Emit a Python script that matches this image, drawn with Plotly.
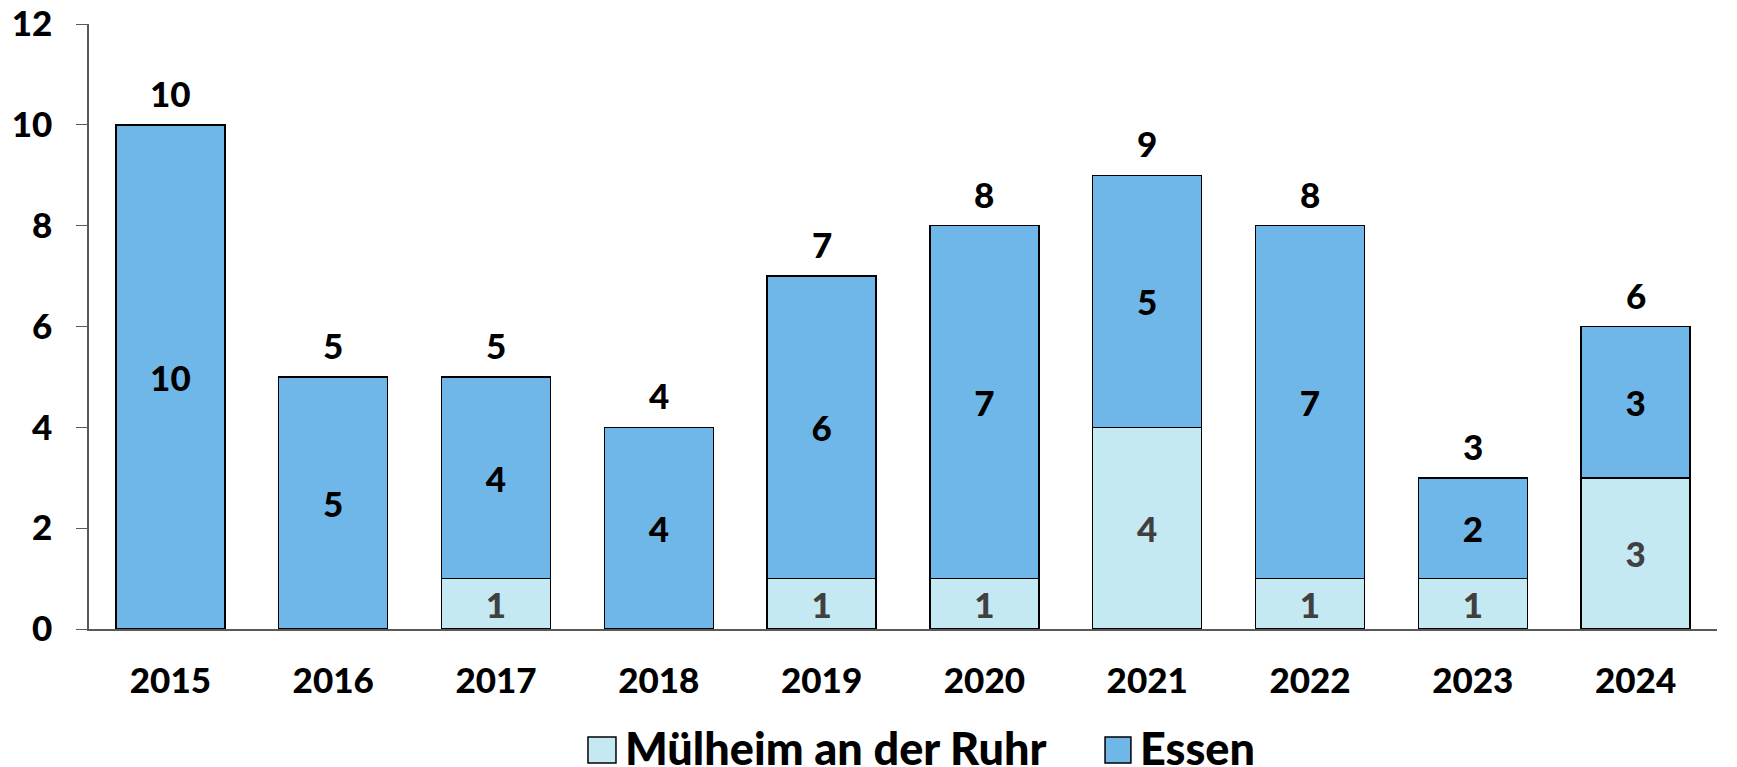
import plotly.graph_objects as go

years = ["2015", "2016", "2017", "2018", "2019", "2020", "2021", "2022", "2023", "2024"]
muelheim = [0, 0, 1, 0, 1, 1, 4, 1, 1, 3]
essen = [10, 5, 4, 4, 6, 7, 5, 7, 2, 3]
totals = [m + e for m, e in zip(muelheim, essen)]
y_ticks = [0, 2, 4, 6, 8, 10, 12]
series_names = ["Mülheim an der Ruhr", "Essen"]

FONT = "Lato"
W = 900
C_MUEL = "#C5E9F2"
C_ESSEN = "#70B7E9"

fig = go.Figure()
fig.add_trace(go.Bar(
    x=years, y=muelheim, name=series_names[0], showlegend=False,
    marker=dict(color=C_MUEL, line=dict(color="black", width=1.5)),
    text=[str(v) if v else "" for v in muelheim],
    textposition="inside", insidetextanchor="middle", textangle=0,
    textfont=dict(family=FONT, size=35, color="#404040", weight=W),
    constraintext="none",
))
fig.add_trace(go.Bar(
    x=years, y=essen, name=series_names[1], showlegend=False,
    marker=dict(color=C_ESSEN, line=dict(color="black", width=1.5)),
    text=[str(v) if v else "" for v in essen],
    textposition="inside", insidetextanchor="middle", textangle=0,
    textfont=dict(family=FONT, size=35, color="black", weight=W),
    constraintext="none",
))

# total labels above each stack (category index positions on the category axis)
for i, t in enumerate(totals):
    fig.add_annotation(
        x=i, y=t, xref="x", yref="y", text=str(t), showarrow=False,
        yanchor="bottom", yshift=9,
        font=dict(family=FONT, size=35, color="black", weight=W),
    )

# legend drawn below the plot: swatches + labels (paper coordinates)
legend_items = [
    (series_names[0], C_MUEL, 0.3065, 0.3237, 0.328),
    (series_names[1], C_ESSEN, 0.6241, 0.6400, 0.6443),
]
for name, col, sx0, sx1, tx in legend_items:
    fig.add_shape(
        type="rect", xref="paper", yref="paper",
        x0=sx0, x1=sx1, y0=-0.2215, y1=-0.1785,
        fillcolor=col, line=dict(color="black", width=1.5),
    )
    fig.add_annotation(
        x=tx, y=-0.197, xref="paper", yref="paper", text=name, showarrow=False,
        xanchor="left", yanchor="middle",
        font=dict(family=FONT, size=45, color="black", weight=W),
    )

fig.update_layout(
    width=1729, height=759,
    barmode="stack", bargap=0.33,
    plot_bgcolor="white", paper_bgcolor="white",
    margin=dict(l=81, r=20, t=16, b=138, autoexpand=False),
    font=dict(family=FONT, color="black"),
    showlegend=False,
)
fig.update_xaxes(
    type="category", categoryorder="array", categoryarray=years,
    range=[-0.5, len(years) - 0.5],
    showline=True, linecolor="#595959", linewidth=1.5, automargin=False,
    ticks="", showgrid=False, ticklabelstandoff=20,
    tickfont=dict(family=FONT, size=35, color="black", weight=W),
)
fig.update_yaxes(
    range=[0, 12], tickvals=y_ticks, showline=True, linecolor="#595959", linewidth=1.5,
    automargin=False, ticklabeloverflow="allow",
    ticks="outside", ticklen=11, tickcolor="#595959", showgrid=False, zeroline=False,
    ticklabelstandoff=17,
    tickfont=dict(family=FONT, size=35, color="black", weight=W),
)

fig.write_html("out.html")
